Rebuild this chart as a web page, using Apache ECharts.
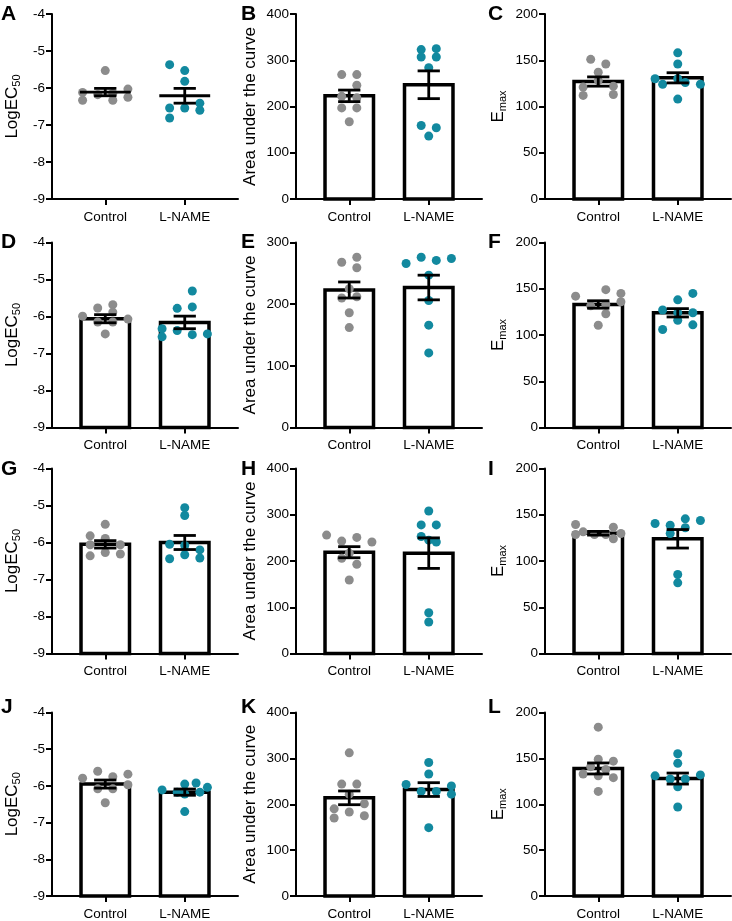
<!DOCTYPE html>
<html><head><meta charset="utf-8">
<script src="https://cdn.jsdelivr.net/npm/echarts@6/dist/echarts.min.js"></script>
<style>html,body{margin:0;padding:0;background:#fff}#c{width:732px;height:921px}</style>
</head><body><div id="c"></div><script>
// ---------- data ----------
const categories = ['Control', 'L-NAME'];
const letters = ['A','B','C','D','E','F','G','H','I','J','K','L'];
// axis ranges [min, max, interval]
const logRange = [-9, -4, 1];
const auc400Range = [0, 400, 100];
const auc300Range = [0, 300, 100];
const emaxRange = [0, 200, 50];
// points: [jitter slot, value]
const aControl = [[0,-5.53],[-3,-6.12],[-3,-6.33],[-1,-6.18],[1,-6.15],[1,-6.33],[3,-6.03],[3,-6.25]];
const aLName   = [[-2,-5.37],[0,-5.53],[0,-5.82],[-2,-6.54],[0,-6.54],[2,-6.41],[2,-6.60],[-2,-6.81]];
const aMean = [-6.11, -6.21], aSem = [0.10, 0.20];
const bControl = [[-1,269],[1,269],[1,246],[-1,222],[1,219],[-1,197],[1,197],[0,167]];
const bLName   = [[-1,323],[1,325],[-1,307],[1,307],[0,284],[-1,159],[1,154],[0,136]];
const bMean = [223, 247], bSem = [12.5, 30];
const cControl = [[-1,151],[1,146],[0,137],[0,128],[-2,121],[2,122],[-2,112],[2,113]];
const cLName   = [[0,158],[0,146],[-3,130],[-2,124],[0,130],[1,126],[3,124],[0,108]];
const cMean = [127, 131], cSem = [5, 5.5];
const dControl = [[-3,-5.99],[-1,-5.77],[1,-5.68],[1,-5.88],[-1,-6.15],[1,-6.15],[3,-6.07],[0,-6.47]];
const dLName   = [[1,-5.31],[-1,-5.78],[1,-5.74],[-3,-6.33],[-1,-6.38],[-3,-6.55],[1,-6.49],[3,-6.47]];
const dMean = [-6.06, -6.16], dSem = [0.11, 0.17];
const eControl = [[-1,268],[1,276],[1,259],[0,225],[-1,210],[1,212],[0,186],[0,162]];
const eLName   = [[-3,266],[-1,276],[1,271],[3,274],[0,247],[0,206],[0,166],[0,121]];
const eMean = [223, 227], eSem = [13, 20];
const fControl = [[-3,142],[1,149],[3,145],[-1,131.5],[1,133],[3,136],[1,123],[0,110.6]];
const fLName   = [[2,145],[0,138],[-2,127],[0,124],[2,124],[0,116],[-2,106],[2,111]];
const fMean = [133, 124], fSem = [4, 4.5];
const gControl = [[0,-5.51],[-2,-5.82],[0,-5.89],[-2,-6.06],[2,-6.06],[-2,-6.36],[0,-6.27],[2,-6.31]];
const gLName   = [[0,-5.06],[0,-5.27],[-2,-6.05],[0,-6.08],[2,-6.2],[-2,-6.44],[0,-6.33],[2,-6.42]];
const gMean = [-6.05, -6.0], gSem = [0.1, 0.19];
const hControl = [[-3,256],[-1,243],[1,251],[3,241],[0,217],[-1,206],[1,193],[0,159]];
const hLName   = [[0,308],[-1,278],[1,278],[-1,253],[0,245],[1,241],[0,88],[0,68]];
const hMean = [219, 217], hSem = [12, 33];
const iControl = [[-3,139.5],[-3,128.6],[-2,131.5],[-0.5,128.6],[1,128.6],[2,136.6],[2,124],[3,129.7]];
const iLName   = [[-3,140.5],[-1,138.7],[1,145.6],[3,143.8],[-1,129.7],[1,135.9],[0,85.4],[0,76.4]];
const iMean = [130, 124], iSem = [2, 10];
const jControl = [[-3,-5.79],[-1,-5.60],[1,-5.75],[3,-5.68],[-1,-6.08],[1,-6.08],[3,-5.97],[0,-6.46]];
const jLName   = [[-3,-6.11],[0,-5.95],[1.5,-5.92],[3,-6.04],[-1,-6.17],[0,-6.22],[2,-6.17],[0,-6.70]];
const jMean = [-5.95, -6.17], jSem = [0.11, 0.085];
const kControl = [[0,312],[-1,244],[1,244],[0,222],[-2,190],[2,201],[-2,170],[0,183],[2,175]];
const kLName   = [[0,291],[0,266],[-3,243],[3,240],[-1,228],[1,228],[3,222],[0,149]];
const kMean = [214, 232], kSem = [15, 15];
const lControl = [[0,184],[0,149],[2,147],[-1,141],[1,138],[-2,133],[0,131],[2,129],[0,114]];
const lLName   = [[0,155],[0,144.6],[-3,131],[3,132],[-1,127.5],[1,127.5],[0,119],[0,97]];
const lMean = [139, 128], lSem = [6, 6];

// ---------- layout / style ----------
const FONT = "'Liberation Sans', Arial, sans-serif";
const GREY = '#8c8c8c', TEAL = '#12899f';
const gridLefts = [52, 296, 545];
const gridTops = [14, 242.5, 468.5, 712.5];
const letterTops = [4, 232, 459, 697];
const letterLefts = [1, 241, 488];
const GW = 186, GH = 185;
const XMIN = -0.67, XMAX = 1.67;
const SLOT = 0.095;
const BAR_HALF = 0.305, CAP_HALF = 0.14, MEAN_HALF = 0.32;
const nameGaps = [30, 36, 37];

const rich = {
  m: {fontSize: 17, fontFamily: FONT, color: '#000', lineHeight: 20},
  s: {fontSize: 11, fontFamily: FONT, color: '#000', lineHeight: 11, verticalAlign: 'bottom'}
};
const titleLog = '{m|LogEC}{s|50}';
const titleAuc = '{m|Area under the curve}';
const titleEmax = '{m|E}{s|max}';

const panels = [
  [aControl,aLName,aMean,aSem,logRange,titleLog,false],
  [bControl,bLName,bMean,bSem,auc400Range,titleAuc,true],
  [cControl,cLName,cMean,cSem,emaxRange,titleEmax,true],
  [dControl,dLName,dMean,dSem,logRange,titleLog,true],
  [eControl,eLName,eMean,eSem,auc300Range,titleAuc,true],
  [fControl,fLName,fMean,fSem,emaxRange,titleEmax,true],
  [gControl,gLName,gMean,gSem,logRange,titleLog,true],
  [hControl,hLName,hMean,hSem,auc400Range,titleAuc,true],
  [iControl,iLName,iMean,iSem,emaxRange,titleEmax,true],
  [jControl,jLName,jMean,jSem,logRange,titleLog,true],
  [kControl,kLName,kMean,kSem,auc400Range,titleAuc,true],
  [lControl,lLName,lMean,lSem,emaxRange,titleEmax,true]
];

function renderBar(params, api) {
  const x = api.value(0), m = api.value(1), base = api.value(2);
  const p1 = api.coord([x - BAR_HALF, m]);
  const p2 = api.coord([x + BAR_HALF, base]);
  return {type: 'rect', shape: {x: p1[0], y: p1[1], width: p2[0] - p1[0], height: p2[1] - p1[1]},
    style: {fill: '#fff', stroke: '#000', lineWidth: 3.5}};
}
function renderErr(params, api) {
  const x = api.value(0), m = api.value(1), s = api.value(2), showMean = api.value(3);
  const top = api.coord([x, m + s]), bot = api.coord([x, m - s]);
  const l = api.coord([x - CAP_HALF, m])[0], r = api.coord([x + CAP_HALF, m])[0];
  const st = {stroke: '#000', lineWidth: 2.8};
  const children = [
    {type: 'line', shape: {x1: top[0], y1: top[1], x2: bot[0], y2: bot[1]}, style: st},
    {type: 'line', shape: {x1: l, y1: top[1], x2: r, y2: top[1]}, style: st},
    {type: 'line', shape: {x1: l, y1: bot[1], x2: r, y2: bot[1]}, style: st}
  ];
  if (showMean) {
    const ml = api.coord([x - MEAN_HALF, m]), mr = api.coord([x + MEAN_HALF, m]);
    children.push({type: 'line', shape: {x1: ml[0], y1: ml[1], x2: mr[0], y2: mr[1]}, style: st});
  }
  return {type: 'group', children};
}

const grid = [], xAxis = [], yAxis = [], series = [], title = [];
panels.forEach((p, i) => {
  const [ctrl, ln, mean, sem, range, yname, bars] = p;
  const row = Math.floor(i / 3), col = i % 3;
  grid.push({left: gridLefts[col], top: gridTops[row], width: GW, height: GH});
  title.push({text: letters[i], left: letterLefts[col], top: letterTops[row], padding: 0,
    textStyle: {fontSize: 21, fontWeight: 'bold', fontFamily: FONT, color: '#000'}});
  xAxis.push({gridIndex: i, type: 'value', min: XMIN, max: XMAX,
    axisLine: {show: true, onZero: false, lineStyle: {color: '#000', width: 2}},
    axisTick: {show: true, customValues: [0, 1], length: 6, lineStyle: {color: '#000', width: 2}},
    axisLabel: {customValues: [0, 1], formatter: v => categories[Math.round(v)], margin: 11,
      fontSize: 13.5, fontFamily: FONT, color: '#000'},
    splitLine: {show: false}});
  yAxis.push({gridIndex: i, type: 'value', min: range[0], max: range[1], interval: range[2],
    name: yname, nameLocation: 'middle', nameGap: nameGaps[col],
    nameTextStyle: {rich: rich},
    axisLine: {show: true, onZero: false, lineStyle: {color: '#000', width: 2}},
    axisTick: {show: true, length: 6, lineStyle: {color: '#000', width: 2}},
    axisLabel: {margin: 7, fontSize: 13.5, fontFamily: FONT, color: '#000'},
    splitLine: {show: false}});
  if (bars) {
    series.push({type: 'custom', xAxisIndex: i, yAxisIndex: i, z: 1, renderItem: renderBar,
      data: mean.map((m, k) => [k, m, range[0]]), silent: true});
  }
  series.push({type: 'scatter', xAxisIndex: i, yAxisIndex: i, z: 2, symbolSize: 9,
    itemStyle: {color: GREY, opacity: 1}, data: ctrl.map(d => [0 + d[0] * SLOT, d[1]])});
  series.push({type: 'scatter', xAxisIndex: i, yAxisIndex: i, z: 2, symbolSize: 9,
    itemStyle: {color: TEAL, opacity: 1}, data: ln.map(d => [1 + d[0] * SLOT, d[1]])});
  series.push({type: 'custom', xAxisIndex: i, yAxisIndex: i, z: 3, renderItem: renderErr,
    data: mean.map((m, k) => [k, m, sem[k], bars ? 0 : 1]), silent: true});
});

const chart = echarts.init(document.getElementById('c'), null, {renderer: 'canvas'});
chart.setOption({backgroundColor: '#fff', animation: false, title, grid, xAxis, yAxis, series});
</script></body></html>
